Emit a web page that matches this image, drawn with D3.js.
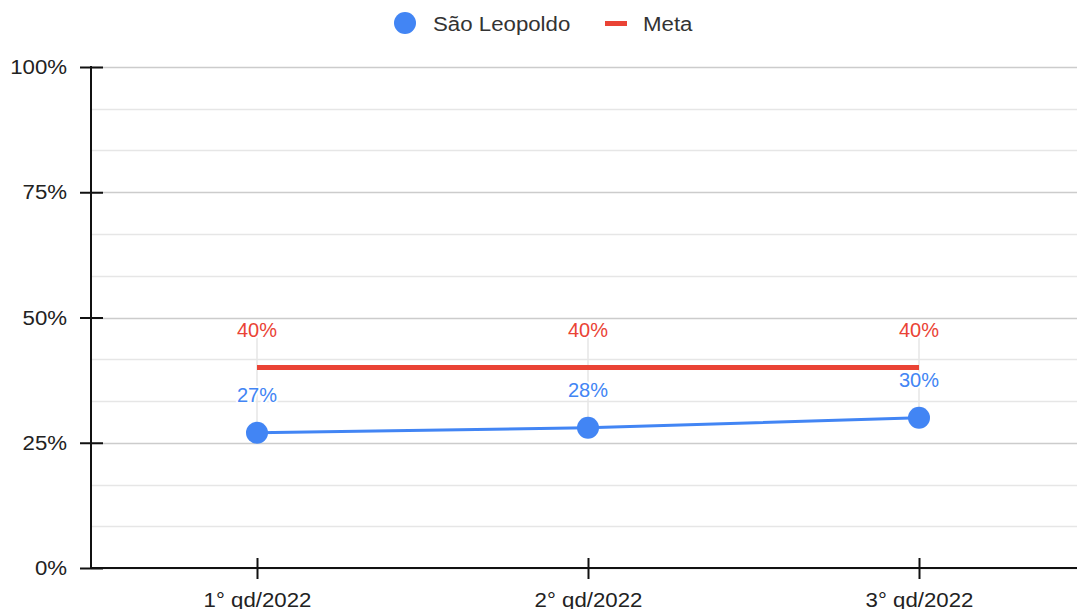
<!DOCTYPE html>
<html>
<head>
<meta charset="utf-8">
<script src="https://cdn.jsdelivr.net/npm/d3@7"></script>
<style>
  body { margin: 0; background: #fff; }
  svg { font-family: Arial, "Liberation Sans", sans-serif; }
</style>
</head>
<body>
<div id="chart"></div>
<script>
// dados
const categories = ["1° qd/2022", "2° qd/2022", "3° qd/2022"];
const saoLeopoldo = [27, 28, 30];
const meta = [40, 40, 40];
const yTicks = [0, 25, 50, 75, 100];

const width = 1077;
const height = 609;
const font = "Arial, 'Liberation Sans', sans-serif";
const stretch = 1.06;

const svg = d3.select("#chart")
  .append("svg")
  .attr("width", width)
  .attr("height", height);

const x = d3.scalePoint()
  .domain(categories)
  .range([257, 919]);

const y = d3.scaleLinear()
  .domain([0, 100])
  .range([568, 67]);

// linhas de grade menores
const minor = d3.range(0, 100.01, 25 / 3);
svg.append("g")
  .selectAll("line")
  .data(minor)
  .enter()
  .append("line")
  .attr("x1", 91)
  .attr("x2", width)
  .attr("y1", d => Math.round(y(d)) + 0.5)
  .attr("y2", d => Math.round(y(d)) + 0.5)
  .attr("stroke", d => yTicks.some(t => Math.abs(t - d) < 0.01) ? "#cccccc" : "#e6e6e6")
  .attr("stroke-width", 1.5);

// linhas verticais das categorias
svg.append("g")
  .selectAll("line")
  .data(categories)
  .enter()
  .append("line")
  .attr("x1", d => x(d))
  .attr("x2", d => x(d))
  .attr("y1", (d, i) => y(Math.max(meta[i], saoLeopoldo[i])) - 40)
  .attr("y2", (d, i) => y(saoLeopoldo[i]))
  .attr("stroke", "#e6e6e6")
  .attr("stroke-width", 1.5);

// eixo Y
const yAxis = svg.append("g")
  .attr("transform", "translate(91,0)")
  .call(d3.axisLeft(y).tickValues(yTicks).tickFormat(d => d + "%").tickSize(11).tickPadding(11.6));
yAxis.selectAll(".tick line").attr("x2", 12).attr("x1", -11).attr("stroke", "#111").attr("stroke-width", 2);
yAxis.select(".domain").remove();
yAxis.selectAll("text")
  .attr("font-size", 21).attr("fill", "#222").attr("font-family", font)
  .attr("transform", `scale(${stretch},1)`);
svg.append("line")
  .attr("x1", 91).attr("x2", 91)
  .attr("y1", y(100) - 1).attr("y2", y(0) + 1)
  .attr("stroke", "#111").attr("stroke-width", 2);

// eixo X
const xAxis = svg.append("g")
  .attr("transform", "translate(0,568)")
  .call(d3.axisBottom(x).tickSize(11).tickPadding(13));
xAxis.select(".domain").remove();
xAxis.selectAll(".tick line").attr("y1", -10).attr("y2", 11).attr("stroke", "#111").attr("stroke-width", 2);
xAxis.selectAll("text")
  .attr("font-size", 21).attr("fill", "#222").attr("font-family", font)
  .attr("transform", `scale(${stretch},1)`);
svg.append("line")
  .attr("x1", 90).attr("x2", width)
  .attr("y1", y(0)).attr("y2", y(0))
  .attr("stroke", "#111").attr("stroke-width", 2);

// linha Meta
const line = d3.line()
  .x((d, i) => x(categories[i]))
  .y(d => y(d));

svg.append("path")
  .datum(meta)
  .attr("d", line)
  .attr("fill", "none")
  .attr("stroke", "#ea4335")
  .attr("stroke-width", 5);

// linha São Leopoldo
svg.append("path")
  .datum(saoLeopoldo)
  .attr("d", line)
  .attr("fill", "none")
  .attr("stroke", "#4285f4")
  .attr("stroke-width", 3);

svg.append("g")
  .selectAll("circle")
  .data(saoLeopoldo)
  .enter()
  .append("circle")
  .attr("cx", (d, i) => x(categories[i]))
  .attr("cy", d => y(d))
  .attr("r", 11)
  .attr("fill", "#4285f4");

// rótulos
function labels(values, color) {
  svg.append("g")
    .selectAll("text")
    .data(values)
    .enter()
    .append("text")
    .attr("transform", (d, i) => `translate(${x(categories[i])},${y(d) - 31})`)
    .attr("text-anchor", "middle")
    .attr("font-size", 20)
    .attr("fill", color)
    .attr("stroke", "#fff")
    .attr("stroke-width", 4)
    .attr("paint-order", "stroke")
    .text(d => d + "%");
}
labels(meta, "#ea4335");
labels(saoLeopoldo, "#4285f4");

// legenda
const legend = svg.append("g");
legend.append("circle").attr("cx", 405).attr("cy", 23).attr("r", 11).attr("fill", "#4285f4");
legend.append("text").attr("transform", `translate(433,31) scale(${stretch},1)`)
  .attr("font-size", 21).attr("fill", "#333").text("São Leopoldo");
legend.append("rect").attr("x", 605).attr("y", 21).attr("width", 22).attr("height", 5).attr("fill", "#ea4335");
legend.append("text").attr("transform", `translate(643,31) scale(${stretch},1)`)
  .attr("font-size", 21).attr("fill", "#333").text("Meta");
</script>
</body>
</html>
